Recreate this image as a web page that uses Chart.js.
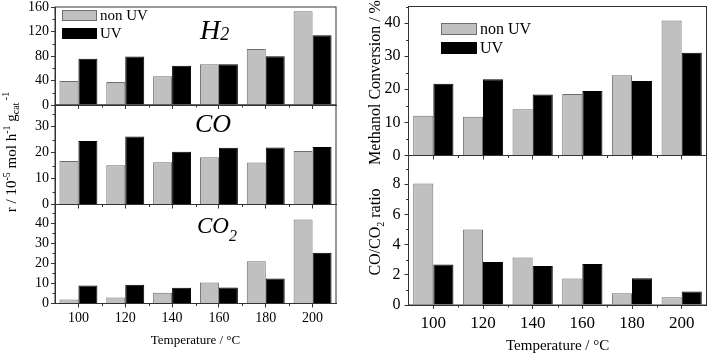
<!DOCTYPE html>
<html>
<head>
<meta charset="utf-8">
<script src="https://cdn.jsdelivr.net/npm/chart.js@4.4.0/dist/chart.umd.min.js"></script>
<style>
  html, body { margin: 0; padding: 0; background: #fff; overflow: hidden; }
  #wrap { position: relative; width: 709px; height: 358px; overflow: hidden; }
  #wrap canvas { position: absolute; left: 0; top: -20px; }
</style>
</head>
<body>
<div id="wrap">
  <canvas id="cH2" width="709" height="378"></canvas>
  <canvas id="cCO" width="709" height="378"></canvas>
  <canvas id="cCO2" width="709" height="378"></canvas>
  <canvas id="cConv" width="709" height="378"></canvas>
  <canvas id="cRatio" width="709" height="378"></canvas>
</div>
<script>
// datos
const temps = ['100', '120', '140', '160', '180', '200'];

const h2NonUV = [39, 37.5, 47, 66.4, 91.4, 153];
const h2UV = [75.6, 79, 64.2, 66.4, 79.5, 113.7];
const coNonUV = [16.7, 15.1, 16.3, 18.2, 16.2, 20.6];
const coUV = [24.4, 26.2, 20.3, 21.8, 21.9, 22.1];
const co2NonUV = [2, 3, 5.3, 10.5, 21, 41.8];
const co2UV = [9, 9.3, 7.8, 8, 12.5, 25.3];
const convNonUV = [12, 11.7, 14, 18.6, 24.2, 40.8];
const convUV = [21.7, 23, 18.4, 19.5, 22.5, 31];
const ratioNonUV = [8.04, 5.0, 3.14, 1.75, 0.77, 0.51];
const ratioUV = [2.68, 2.85, 2.58, 2.72, 1.77, 0.89];

// marcas de los ejes y
const h2Ticks = [0, 40, 80, 120, 160];
const coTicks = [0, 10, 20, 30];
const co2Ticks = [0, 10, 20, 30, 40];
const convTicks = [0, 10, 20, 30, 40];
const ratioTicks = [0, 2, 4, 6, 8];

const W = 709, H = 378, OFF = 20;
const SERIF = "'Liberation Serif', 'Times New Roman', serif";
const GREY = '#c0c0c0', GREY_EDGE = '#6e6e6e', AXIS = '#333';

// texto con sub/superindices
function drawRich(ctx, t) {
  ctx.save();
  ctx.fillStyle = '#000';
  ctx.textBaseline = 'alphabetic';
  const style = t.italic ? 'italic ' : '';
  let w = 0;
  t.parts.forEach(p => { ctx.font = style + p[1] + 'px ' + SERIF; w += ctx.measureText(p[0]).width; });
  ctx.translate(t.x, t.y + OFF);
  if (t.rot) ctx.rotate(-Math.PI / 2);
  let x = t.align === 'left' ? 0 : -w / 2;
  t.parts.forEach(p => {
    ctx.font = style + p[1] + 'px ' + SERIF;
    ctx.fillText(p[0], x, p[2] || 0);
    x += ctx.measureText(p[0]).width;
  });
  ctx.restore();
}

const deco = {
  id: 'deco',
  afterDraw(chart, args, o) {
    const ctx = chart.ctx, a = chart.chartArea;
    const xs = chart.scales.x, ys = chart.scales.y;
    ctx.save();
    ctx.strokeStyle = AXIS;
    ctx.lineWidth = 1;
    ctx.strokeRect(a.left, a.top, a.right - a.left, a.bottom - a.top);

    // marcas menores
    ctx.beginPath();
    const tv = ys.ticks.map(k => k.value);
    const step = tv[1] - tv[0];
    for (let v = tv[0] + step / 2; v <= ys.max + 1e-6; v += step) {
      const y = Math.round(ys.getPixelForValue(v)) + 0.5;
      ctx.moveTo(a.left - 2.5, y);
      ctx.lineTo(a.left, y);
    }
    for (let i = 1; i < chart.data.labels.length; i++) {
      const x = Math.round((xs.getPixelForValue(i - 1) + xs.getPixelForValue(i)) / 2) + 0.5;
      ctx.moveTo(x, a.bottom);
      ctx.lineTo(x, a.bottom + 2.5);
    }
    ctx.stroke();

    // leyenda
    if (o.legend) {
      const L = o.legend;
      chart.data.datasets.forEach((ds, i) => {
        const y = L.y + i * L.gap;
        ctx.fillStyle = ds.backgroundColor;
        ctx.fillRect(L.x, y + OFF, L.w, L.h);
        ctx.strokeStyle = ds.borderColor;
        ctx.strokeRect(L.x + 0.5, y + OFF + 0.5, L.w - 1, L.h - 1);
        ctx.fillStyle = '#000';
        ctx.font = L.size + 'px ' + SERIF;
        ctx.textBaseline = 'middle';
        ctx.fillText(ds.label, L.x + L.w + 3, y + OFF + L.h / 2 + 1);
      });
    }
    (o.texts || []).forEach(t => drawRich(ctx, t));
    ctx.restore();
  }
};

function panel(id, box, yTicks, yMax, nonUV, UV, opt) {
  return new Chart(document.getElementById(id), {
    type: 'bar',
    data: {
      labels: temps,
      datasets: [
        { label: 'non UV', data: nonUV, backgroundColor: GREY, borderColor: GREY_EDGE, borderWidth: 1,
          categoryPercentage: 0.81, barPercentage: 1 },
        { label: 'UV', data: UV, backgroundColor: '#000', borderColor: '#000', borderWidth: 1,
          categoryPercentage: 0.81, barPercentage: 1 }
      ]
    },
    options: {
      responsive: false,
      animation: false,
      events: [],
      layout: {
        padding: { left: box.l - opt.yW, right: W - box.r, top: box.t + OFF, bottom: H - (box.b + OFF) - opt.xH }
      },
      plugins: {
        legend: { display: false },
        tooltip: { enabled: false },
        deco: { legend: opt.legend, texts: opt.texts }
      },
      scales: {
        x: {
          grid: { offset: false, drawOnChartArea: false, tickLength: 4, color: AXIS },
          border: { color: AXIS },
          ticks: { display: opt.xLabels, color: '#000', padding: opt.xPad, maxRotation: 0,
                   font: { family: SERIF, size: opt.xSize } },
          afterFit(s) { s.height = opt.xH; }
        },
        y: {
          min: 0,
          max: yMax,
          afterBuildTicks(s) { s.ticks = yTicks.map(v => ({ value: v })); },
          grid: { drawOnChartArea: false, tickLength: 4, color: AXIS },
          border: { color: AXIS },
          ticks: { color: '#000', padding: opt.yPad, font: { family: SERIF, size: opt.ySize } },
          afterFit(s) { s.width = opt.yW; }
        }
      }
    },
    plugins: [deco]
  });
}

const leftBase = { yW: 45, ySize: 14, yPad: 2, xSize: 14, xPad: 2 };
const rightBase = { yW: 45, ySize: 16, yPad: 4, xSize: 17, xPad: 4 };

panel('cH2', { l: 55, r: 336, t: 7, b: 105 }, h2Ticks, 160, h2NonUV, h2UV, Object.assign({}, leftBase, {
  xH: 4, xLabels: false,
  legend: { x: 62, y: 10, w: 35, h: 11, gap: 18, size: 15 },
  texts: [
    { x: 200, y: 39, align: 'left', italic: true, parts: [['H', 28, 0], ['2', 18, 1]] },
    { x: 16, y: 152, rot: true, parts: [['r / 10', 15, 0], ['-5', 10, -6], [' mol h', 15, 0], ['-1', 10, -6],
      [' g', 15, 0], ['cat', 10, 3], [' -1', 10, -7]] }
  ]
}));

panel('cCO', { l: 55, r: 336, t: 105, b: 204.5 }, coTicks, 38.3, coNonUV, coUV, Object.assign({}, leftBase, {
  xH: 4, xLabels: false,
  texts: [
    { x: 195, y: 132, align: 'left', italic: true, parts: [['CO', 26, 0]] }
  ]
}));

panel('cCO2', { l: 55, r: 336, t: 204.5, b: 303.5 }, co2Ticks, 49.3, co2NonUV, co2UV, Object.assign({}, leftBase, {
  xH: 30, xLabels: true,
  texts: [
    { x: 197, y: 233, align: 'left', italic: true, parts: [['CO', 23, 0], ['2', 16, 8]] },
    { x: 195.5, y: 344, parts: [['Temperature / °C', 13, 0]] }
  ]
}));

panel('cConv', { l: 408.5, r: 706.5, t: 6.5, b: 155.5 }, convTicks, 45, convNonUV, convUV, Object.assign({}, rightBase, {
  xH: 4, xLabels: false,
  legend: { x: 441, y: 23, w: 36, h: 12, gap: 19, size: 16 },
  texts: [
    { x: 380, y: 82.5, rot: true, parts: [['Methanol Conversion / %', 16, 0]] }
  ]
}));

panel('cRatio', { l: 408.5, r: 706.5, t: 155.5, b: 305 }, ratioTicks, 9.9, ratioNonUV, ratioUV, Object.assign({}, rightBase, {
  xH: 30, xLabels: true,
  texts: [
    { x: 380, y: 232, rot: true, parts: [['CO/CO', 16, 0], ['2', 10, 4], [' ratio', 16, 0]] },
    { x: 557.6, y: 350, parts: [['Temperature / °C', 15, 0]] }
  ]
}));
</script>
</body>
</html>
